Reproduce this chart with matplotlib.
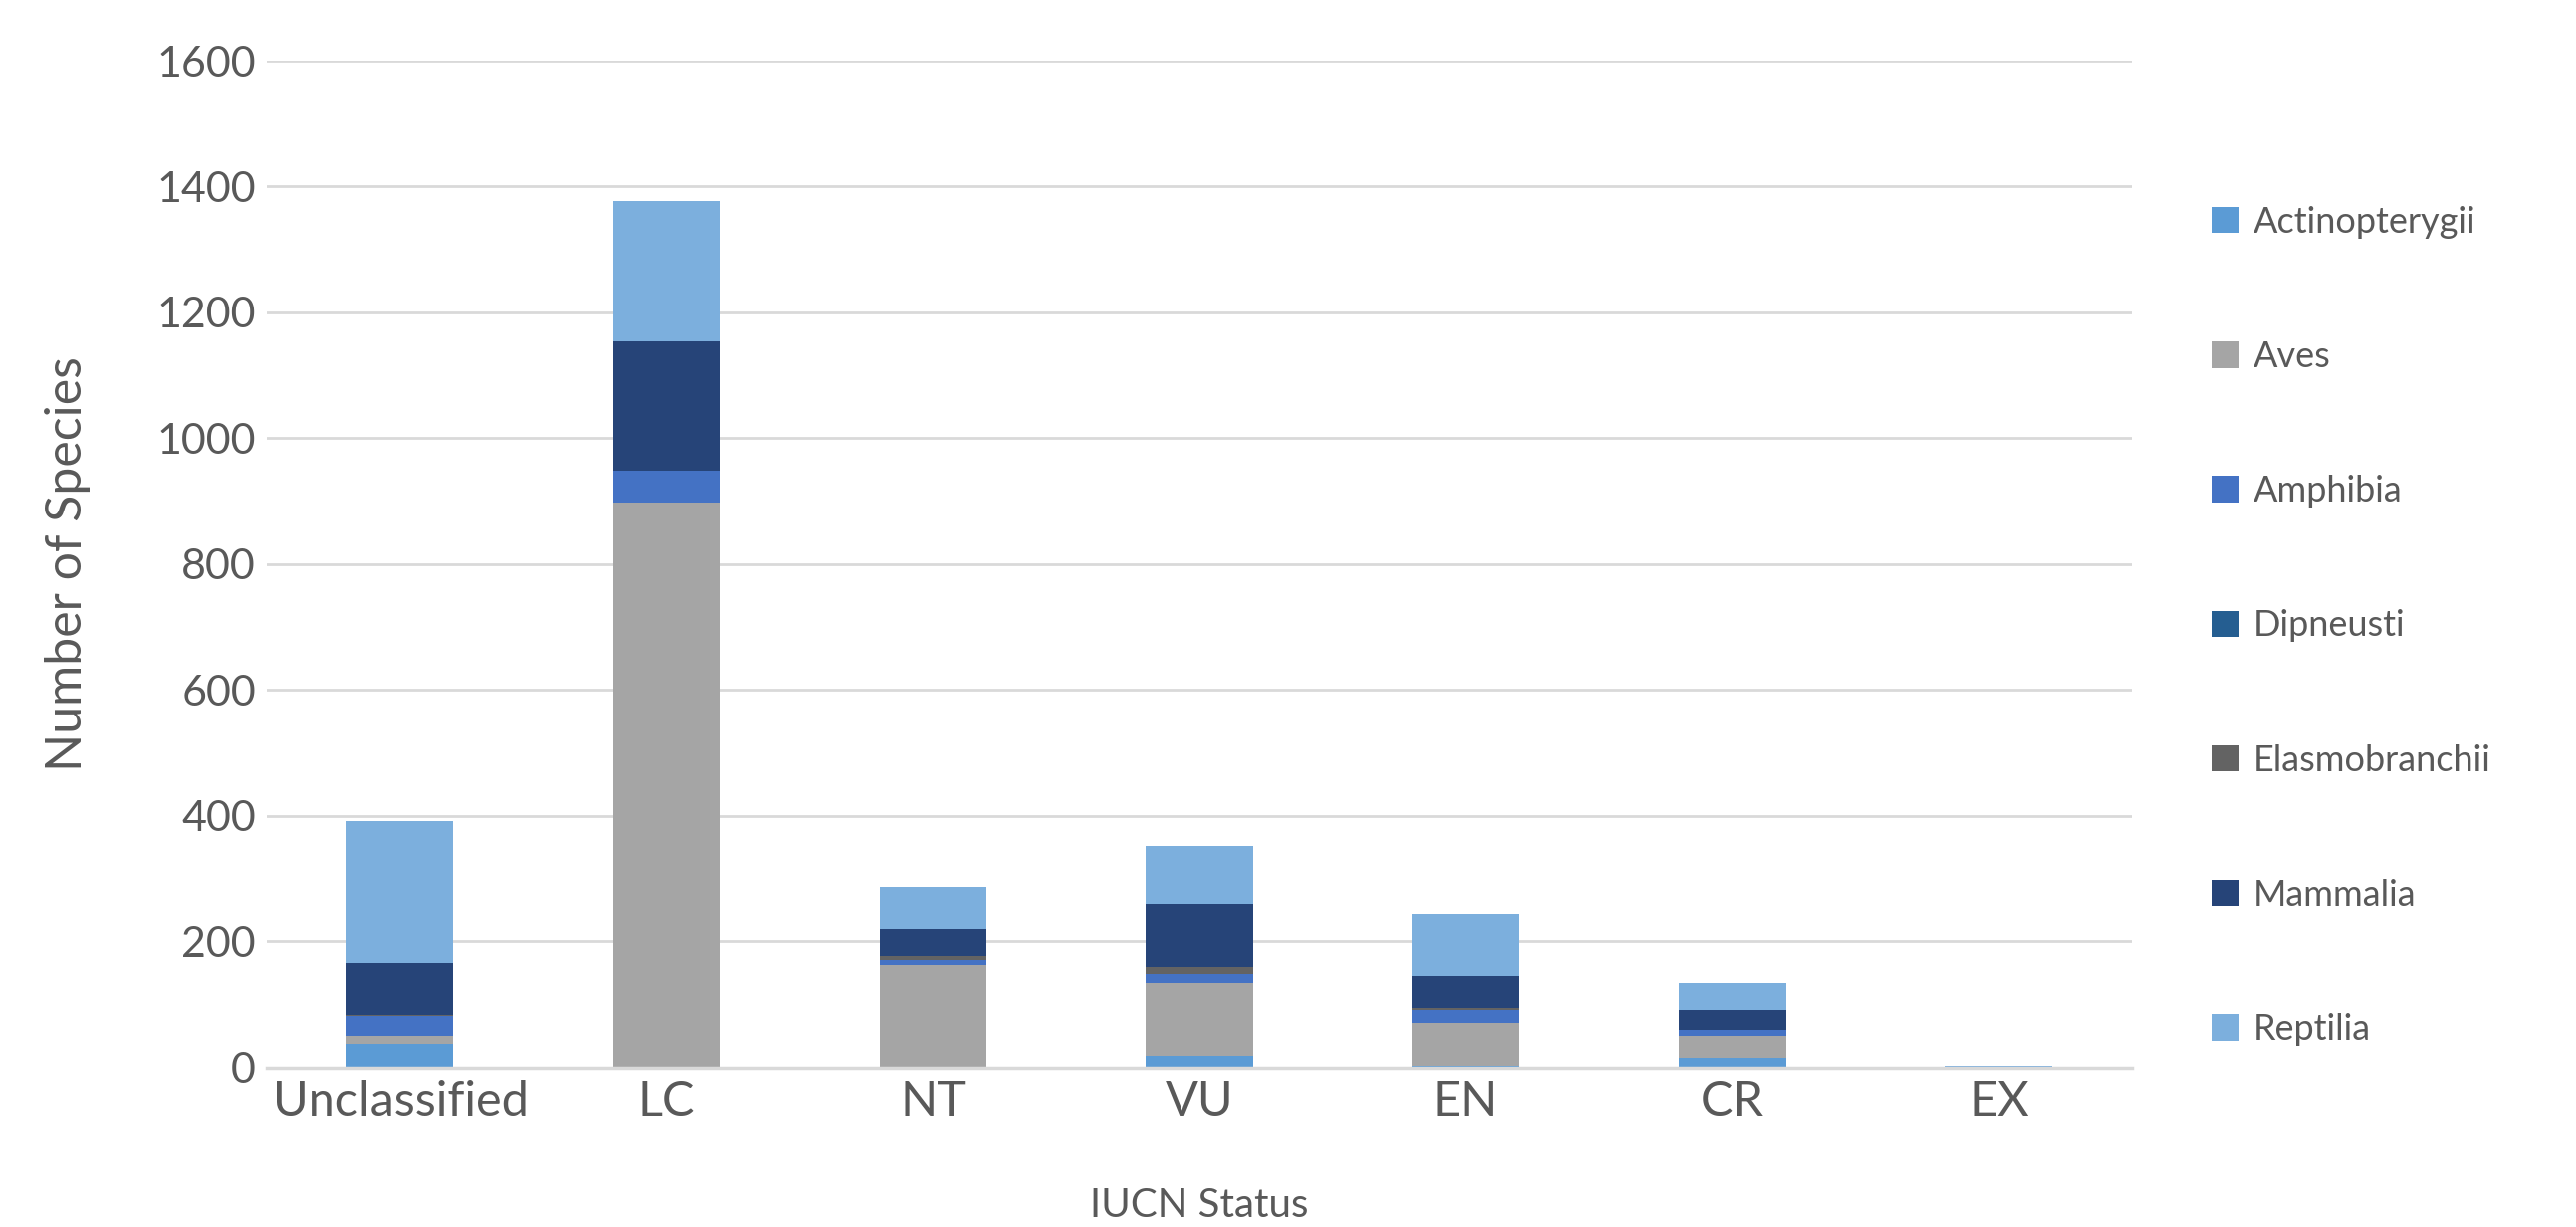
import numpy as np
import matplotlib.pyplot as plt
from matplotlib.patches import Patch

plt.rcParams['font.family'] = ['Lato', 'DejaVu Sans']

# IUCN categories and species counts per class
statuses = ["Unclassified", "LC", "NT", "VU", "EN", "CR", "EX"]
classes = ["Actinopterygii", "Aves", "Amphibia", "Dipneusti",
           "Elasmobranchii", "Mammalia", "Reptilia"]

actinopterygii = [38, 1, 1, 18, 2, 16, 0]
aves = [12, 897, 162, 116, 69, 34, 0]
amphibia = [31, 51, 7, 14, 20, 10, 0]
dipneusti = [0, 0, 0, 0, 0, 0, 0]
elasmobranchii = [2, 0, 6, 12, 4, 0, 0]
mammalia = [83, 205, 44, 101, 50, 32, 0]
reptilia = [225, 223, 68, 92, 99, 42, 3]

colors = ["#5B9BD5", "#A5A5A5", "#4472C4", "#255E91",
          "#636363", "#264478", "#7CAFDD"]
TXT = "#595959"

series = [actinopterygii, aves, amphibia, dipneusti,
          elasmobranchii, mammalia, reptilia]

fig = plt.figure(figsize=(25.88, 12.33), dpi=100)
ax = fig.add_axes([0.1036, 0.130, 0.724, 0.8205])

x = np.arange(len(statuses))
bottom = np.zeros(len(statuses))
for vals, col, name in zip(series, colors, classes):
    vals = np.array(vals, dtype=float)
    ax.bar(x, vals, width=0.4, bottom=bottom, color=col, label=name,
           linewidth=0, zorder=3)
    bottom += vals

ax.set_xlim(-0.5, len(statuses) - 0.5)
ax.set_ylim(0, 1600)
ax.set_yticks(np.arange(0, 1601, 200))
ax.yaxis.grid(True, color="#D9D9D9", linewidth=2, zorder=0)
ax.set_axisbelow(True)
for s in ["top", "right", "left"]:
    ax.spines[s].set_visible(False)
ax.spines["bottom"].set_color("#D9D9D9")
ax.spines["bottom"].set_linewidth(2.5)
ax.spines["bottom"].set_zorder(4)

ax.set_xticks(x)
ax.set_xticklabels(statuses)
ax.tick_params(axis="x", length=0, pad=9, labelsize=35, labelcolor=TXT)
ax.tick_params(axis="y", length=0, pad=8, labelsize=31, labelcolor=TXT)

ax.set_xlabel("IUCN Status", fontsize=29, color=TXT, labelpad=46)
ax.set_ylabel("Number of Species", fontsize=36, color=TXT, labelpad=48)

handles = [Patch(facecolor=c, edgecolor="none") for c in colors]
fig.legend(handles, classes, loc="center left", bbox_to_anchor=(0.846, 0.49),
           frameon=False, fontsize=26, labelcolor=TXT, handlelength=0.75,
           handleheight=0.75, handletextpad=0.4, labelspacing=2.83)

fig.savefig("out.png", dpi=100)
